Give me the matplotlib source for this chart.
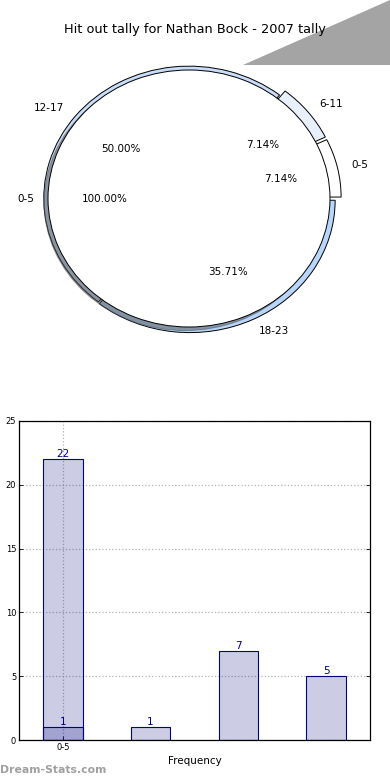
import matplotlib
matplotlib.use('Agg')
import matplotlib.pyplot as plt
from matplotlib.patches import Polygon

# pie data (hit outs by minute range)
pie_labels = ['0-5', '6-11', '12-17', '18-23']
pie_values = [1, 1, 7, 5]
pie_colors = ['#ffffff', '#e8f0fd', '#c9dcf8', '#b8d6fb']
pie_explode = [0.05, 0.05, 0.0, 0.015]
inner_labels = ['0-5']
inner_values = [1]

# bar data
bar_top_values = [22]
bar_values = [1, 1, 7, 5]
tick_labels = ['0-5']

W, H = 390, 780
fig = plt.figure(figsize=(W / 100, H / 100), dpi=100)

# grey corner decoration
fig.patches.append(Polygon([(243 / W, 1 - 65 / H), (1.0, 1.0), (1.0, 1 - 65 / H)],
                           closed=True, transform=fig.transFigure,
                           facecolor='#a4a4a4', edgecolor='none'))

fig.text(195 / W, 1 - 30 / H, 'Hit out tally for Nathan Bock - 2007 tally',
         ha='center', va='center', fontsize=9.3)

# pie axes: inner radius 1 -> 141 px wide, 128.5 px tall
cx, cy, rx, ry = 189, 198.5, 141, 128.5
ax1 = fig.add_axes([(cx - 1.5 * rx) / W, 1 - (cy + 1.5 * ry) / H, 3 * rx / W, 3 * ry / H])

wp = dict(edgecolor='black', linewidth=0.7)
outer, _, _ = ax1.pie(pie_values, labels=pie_labels, colors=pie_colors, explode=pie_explode,
                      radius=1.03, autopct='%.2f%%', startangle=0, wedgeprops=wp,
                      textprops=dict(fontsize=7.5), frame=True)
for w in outer:
    w.set_zorder(0.5)
ax1.pie(inner_values, labels=inner_labels, colors=['white'], radius=1.0,
        autopct='%.2f%%', startangle=0, shadow=True, wedgeprops=wp,
        textprops=dict(fontsize=7.5), frame=True)
ax1.set_xlim(-1.5, 1.5)
ax1.set_ylim(-1.5, 1.5)
ax1.set_aspect('auto')
ax1.axis('off')

# bar axes
ax2 = fig.add_axes([19 / W, 40 / H, 351 / W, 319 / H])
navy = '#000080'
fill = (0, 0, 0.5, 0.2)
b1 = ax2.bar(range(len(bar_top_values)), bar_top_values, width=0.45,
             color=fill, edgecolor=navy, linewidth=0.8)
b2 = ax2.bar(range(len(bar_values)), bar_values, width=0.45,
             color=fill, edgecolor=navy, linewidth=0.8)
for bars in (b1, b2):
    for r in bars:
        ax2.text(r.get_x() + r.get_width() / 2, r.get_height(), '%d' % r.get_height(),
                 ha='center', va='bottom', fontsize=7.5, color=navy)

ax2.set_xlim(-0.5, 3.5)
ax2.set_ylim(0, 25)
ax2.set_xticks(range(len(tick_labels)))
ax2.set_xticklabels(tick_labels)
ax2.set_yticks([0, 5, 10, 15, 20, 25])
ax2.tick_params(labelsize=6, length=3, width=0.6, direction='in', right=True, pad=2)
ax2.grid(True, linestyle=':', color='#b4b4b4', linewidth=0.9)
ax2.set_axisbelow(True)
for s in ax2.spines.values():
    s.set_linewidth(0.9)
ax2.set_xlabel('Frequency', fontsize=7.5, labelpad=3)
ax2.set_ylabel('Hit Out Tally', fontsize=7.5)
ax2.yaxis.set_label_coords(-0.052, 0.5)

fig.text(0, 1 - 770 / H, 'Dream-Stats.com', ha='left', va='center',
         fontsize=7.8, fontweight='bold', color='#a0a0a0')

fig.savefig('out.png', dpi=100)
